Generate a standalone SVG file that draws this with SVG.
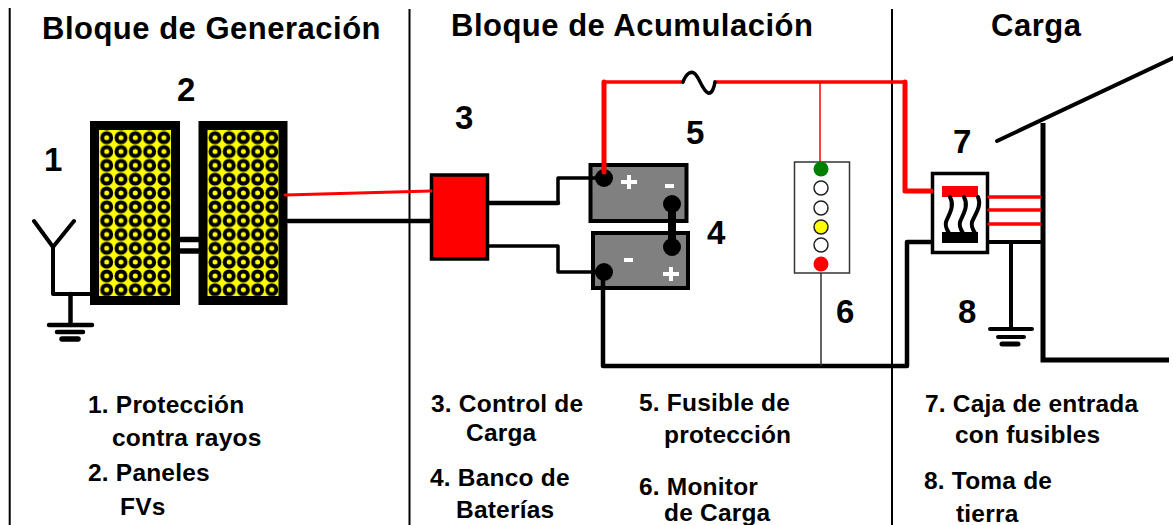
<svg xmlns="http://www.w3.org/2000/svg" width="1173" height="525" viewBox="0 0 1173 525">
<style>
text{font-family:"Liberation Sans",Arial,sans-serif;font-weight:bold;fill:#000}
.h{font-size:31px;letter-spacing:.5px}
.n{font-size:33px}
.t{font-size:24.5px;letter-spacing:.2px}
.k{fill:none;stroke:#000;stroke-linejoin:round;stroke-linecap:round}
.r{fill:none;stroke:#f00;stroke-linejoin:round;stroke-linecap:round}
.bat{fill:#808080;stroke:#000;stroke-width:4}
.dot{fill:#000}
.led{stroke:#222;stroke-width:1.5;fill:#fff}
.sign{fill:#fff}
</style>
<defs>
<pattern id="cellA" patternUnits="userSpaceOnUse" x="99.7" y="130.8" width="14.3" height="13.82">
<rect width="14.3" height="13.82" fill="#ff0"/>
<circle cx="7" cy="6.9" r="4.5" fill="#ff0" stroke="#000" stroke-width="4"/>
</pattern>
<pattern id="cellB" patternUnits="userSpaceOnUse" x="208" y="130.8" width="14.2" height="13.82">
<rect width="14.2" height="13.82" fill="#ff0"/>
<circle cx="7" cy="6.9" r="4.5" fill="#ff0" stroke="#000" stroke-width="4"/>
</pattern>
</defs>

<g id="dividers">
<path d="M409.500 9V525M892 9V525" stroke="#000" stroke-width="2" fill="none"/>
<path d="M9.700 8V525" stroke="#000" stroke-width="2" fill="none"/>
</g>

<g id="panel1">
<rect x="94.500" y="125.500" width="81" height="175" fill="url(#cellA)" stroke="#000" stroke-width="9"/>
</g>
<g id="panel2">
<rect x="203" y="125.500" width="80" height="175" fill="url(#cellB)" stroke="#000" stroke-width="9"/>
</g>

<g id="controller">
<rect x="431.500" y="175" width="56" height="84" fill="#f00" stroke="#000" stroke-width="3.500"/>
</g>

<g id="battery1">
<rect class="bat" x="590.500" y="165" width="96" height="56"/>
<path class="sign" d="M627 175h4v5h6v4h-6v5h-4v-5h-6v-4h6z"/>
<rect class="sign" x="665" y="184" width="9" height="4"/>
<circle class="dot" cx="604" cy="178" r="9"/>
<circle class="dot" cx="672" cy="204" r="9"/>
</g>
<g id="battery2">
<rect class="bat" x="593" y="233" width="95" height="55"/>
<rect class="sign" x="624" y="258" width="9" height="4"/>
<path class="sign" d="M669 267h4v5h6v4h-6v5h-4v-5h-6v-4h6z"/>
<circle class="dot" cx="672" cy="247" r="9"/>
<circle class="dot" cx="604" cy="272" r="9"/>
</g>

<g id="monitor">
<rect x="794.500" y="162" width="55" height="111" fill="#fff" stroke="#333" stroke-width="1.500"/>
<circle cx="821" cy="169" r="7.500" fill="#007f00" stroke="none"/>
<circle class="led" cx="821" cy="188" r="7"/>
<circle class="led" cx="821" cy="208" r="7"/>
<circle class="led" cx="821" cy="227" r="7" style="fill:#ff0"/>
<circle class="led" cx="821" cy="245" r="7"/>
<circle cx="821" cy="264" r="7.500" fill="#f00" stroke="none"/>
</g>

<g id="fusebox">
<rect x="932.500" y="173.500" width="55" height="79" fill="#fff" stroke="#000" stroke-width="3.500"/>
<rect x="942" y="186" width="36" height="11" fill="#f00"/>
<rect x="942" y="232" width="36" height="11" fill="#000"/>
<path class="k" stroke-width="4" d="M950 197C955 206 949 214 946 222C945 226 947 230 949 233M964 197C969 206 963 214 960 222C959 226 961 230 963 233M978 197C982 206 975 214 972 222C971 226 973 230 975 233"/>
</g>

<g id="house">
<path class="k" stroke-width="4" d="M997 141L1173 58"/>
<path stroke="#000" stroke-width="5" fill="none" d="M1043 123V360H1169"/>
</g>

<g id="connectors">
<path class="k" stroke-width="4" d="M34 221L53 247L74 221M53 247V294H90"/>
<path class="k" stroke-width="5.500" d="M181 239.500H198M181 251H198"/>
<path class="k" stroke-width="4.500" d="M70.500 294V325"/>
<path class="k" stroke-width="4.500" d="M49 325H92M57 332H83"/>
<path class="k" stroke-width="5.500" d="M62 339H78"/>
<path class="r" stroke-width="3" d="M285 195L431 191"/>
<path class="k" stroke-width="4.500" d="M288 221H431"/>
<path class="k" stroke-width="4.500" d="M489 203H558"/>
<path class="k" stroke-width="3.500" d="M558 203V178H604M489 246H558V272H604"/>
<path class="k" stroke-width="4.500" d="M603 272V366H907V242H931"/>
<path class="k" stroke-width="8" d="M672 204V247"/>
<path class="r" stroke-width="5" d="M604 172V82"/>
<path class="r" stroke-width="3.500" d="M604 82H683M715 82H905"/>
<path class="k" stroke-width="3.500" d="M683 82C686 74 690 71 694 73C699 76 702 90 708 93C712 94 714 88 715 82"/>
<path class="r" stroke-width="5" d="M905 82V191H931"/>
<path d="M820 82V162" stroke="#f00" stroke-width="1.500" fill="none"/>
<path d="M821 273V366" stroke="#333" stroke-width="1.500" fill="none"/>
<path class="r" stroke-width="3.500" d="M989 197H1040M989 210H1040M989 224H1040"/>
<path class="k" stroke-width="4" d="M989 242H1040"/>
<path class="k" stroke-width="4" d="M1011 242V327M990 329H1032M998 337H1024"/>
<path class="k" stroke-width="5" d="M1002 344H1018"/>
</g>

<g id="labels">
<text class="h" x="42" y="39">Bloque de Generación</text>
<text class="h" x="451" y="36">Bloque de Acumulación</text>
<text class="h" x="991" y="36">Carga</text>
<text class="n" x="44" y="171">1</text>
<text class="n" x="177" y="101">2</text>
<text class="n" x="455" y="129">3</text>
<text class="n" x="707" y="244">4</text>
<text class="n" x="686" y="144">5</text>
<text class="n" x="836" y="323">6</text>
<text class="n" x="953" y="153">7</text>
<text class="n" x="958" y="323">8</text>
<text class="t" x="88" y="413">1. Protección</text>
<text class="t" x="112" y="446">contra rayos</text>
<text class="t" x="88" y="481">2. Paneles</text>
<text class="t" x="120" y="515">FVs</text>
<text class="t" x="431" y="412">3. Control de</text>
<text class="t" x="466" y="441">Carga</text>
<text class="t" x="430" y="486">4. Banco de</text>
<text class="t" x="456" y="518">Baterías</text>
<text class="t" x="639" y="411">5. Fusible de</text>
<text class="t" x="664" y="443">protección</text>
<text class="t" x="639" y="495">6. Monitor</text>
<text class="t" x="664" y="521">de Carga</text>
<text class="t" x="925" y="412">7. Caja de entrada</text>
<text class="t" x="955" y="443">con fusibles</text>
<text class="t" x="924" y="489">8. Toma de</text>
<text class="t" x="956" y="522">tierra</text>
</g>
</svg>
